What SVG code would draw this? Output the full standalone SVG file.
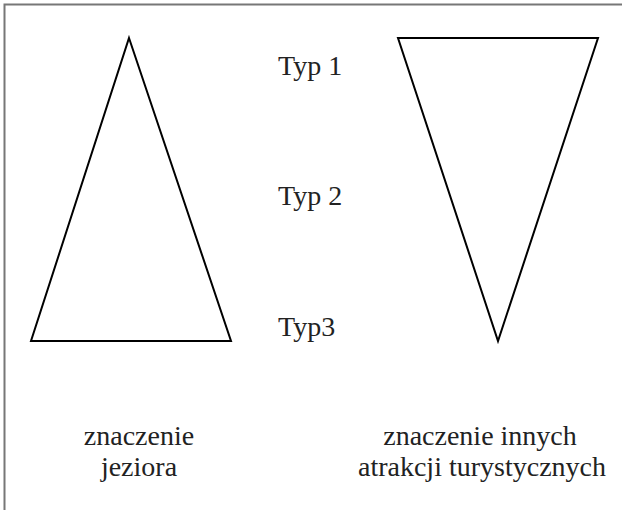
<svg xmlns="http://www.w3.org/2000/svg" width="622" height="510" viewBox="0 0 622 510">
<style>
.tri{fill:none;stroke:#000;stroke-width:2;stroke-linejoin:miter}
.c{text-anchor:middle}
</style>
<rect width="622" height="510" fill="#fff"/>
<path d="M4.5,510 V4.5 H622" fill="none" stroke="#777" stroke-width="2"/>
<g id="lake">
<polygon class="tri" points="129,38 231,341 31,341"/>
</g>
<g id="attractions">
<polygon class="tri" points="398,38 598,38 498,341"/>
</g>
<g id="labels" font-family="'Liberation Serif', 'Times New Roman', 'DejaVu Serif', serif" font-size="28" fill="#222">
<text x="278" y="75">Typ 1</text>
<text x="278" y="205">Typ 2</text>
<text x="278" y="336">Typ3</text>
<text class="c" x="139" y="445">znaczenie</text>
<text class="c" x="139" y="476">jeziora</text>
<text class="c" x="480" y="445">znaczenie innych</text>
<text class="c" x="482" y="476">atrakcji turystycznych</text>
</g>
</svg>
